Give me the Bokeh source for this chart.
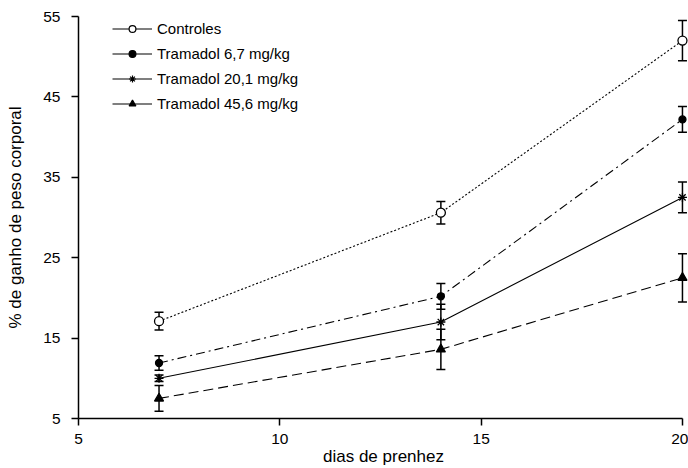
from bokeh.plotting import figure
from bokeh.models import (ColumnDataSource, Whisker, TeeHead, Legend, LegendItem,
                          Range1d, FixedTicker)
from bokeh.embed import file_html
from bokeh.resources import INLINE

# ---- data ----
days = [7, 14, 20]
series_names = ["Controles", "Tramadol 6,7 mg/kg", "Tramadol 20,1 mg/kg", "Tramadol 45,6 mg/kg"]
controles = [17.1, 30.6, 52.0]
controles_err = [1.1, 1.4, 2.5]
tram_6_7 = [11.9, 20.2, 42.2]
tram_6_7_err = [0.9, 1.6, 1.6]
tram_20_1 = [10.0, 17.0, 32.5]
tram_20_1_err = [0.4, 2.2, 1.9]
tram_45_6 = [7.5, 13.6, 22.5]
tram_45_6_err = [1.6, 2.5, 3.0]
x_ticks = [5, 10, 15, 20]
y_ticks = [5, 15, 25, 35, 45, 55]

FONT = "Liberation Sans"

p = figure(width=688, height=468, x_range=Range1d(5, 20.15), y_range=Range1d(5, 55),
           output_backend="svg", toolbar_location=None,
           min_border_left=78, min_border_top=16, min_border_right=0, min_border_bottom=0)
p.xgrid.grid_line_color = None
p.ygrid.grid_line_color = None
p.outline_line_color = None
p.background_fill_color = "white"

for ax, ticks, bounds in ((p.xaxis[0], x_ticks, (5, 20)), (p.yaxis[0], y_ticks, (5, 55))):
    ax.ticker = FixedTicker(ticks=ticks)
    ax.bounds = bounds
    ax.axis_line_width = 1.5
    ax.axis_line_color = "black"
    ax.major_tick_line_width = 1.5
    ax.major_tick_line_color = "black"
    ax.major_tick_in = 0
    ax.major_tick_out = 7
    ax.minor_tick_in = 0
    ax.minor_tick_out = 0
    ax.major_label_text_font = FONT
    ax.major_label_text_font_size = "15.5px"
    ax.major_label_text_color = "black"
    ax.axis_label_text_font = FONT
    ax.axis_label_text_font_size = "17px"
    ax.axis_label_text_font_style = "normal"
    ax.axis_label_text_color = "black"

p.xaxis.axis_label = "dias de prenhez"
p.yaxis.axis_label = "% de ganho de peso corporal"
p.xaxis.major_label_standoff = 8
p.xaxis.axis_label_standoff = 0
p.yaxis.major_label_standoff = 11
p.yaxis.axis_label_standoff = 15

specs = [
    (controles, controles_err, "2 2", "circle", 9, "white"),
    (tram_6_7, tram_6_7_err, "9 4 2 4", "circle", 7, "black"),
    (tram_20_1, tram_20_1_err, "solid", "asterisk", 9, "black"),
    (tram_45_6, tram_45_6_err, "10 5", "triangle", 9, "black"),
]

nan = float("nan")
items = []
for name, (vals, errs, dash, marker, size, fill) in zip(series_names, specs):
    src = ColumnDataSource(dict(
        x=days, y=vals,
        lo=[v - e for v, e in zip(vals, errs)],
        hi=[v + e for v, e in zip(vals, errs)]))
    w = Whisker(source=src, base="x", lower="lo", upper="hi", line_width=1.5,
                line_color="black",
                upper_head=TeeHead(size=9, line_width=1.5, line_color="black"),
                lower_head=TeeHead(size=9, line_width=1.5, line_color="black"))
    p.add_layout(w)
    p.line("x", "y", source=src, line_color="black", line_width=1.1, line_dash=dash)
    p.scatter("x", "y", source=src, marker=marker, size=size, fill_color=fill,
              line_color="black", line_width=1.3)
    # legend proxies (solid line + marker), not drawn in the plot area
    proxy = ColumnDataSource(dict(x=[nan], y=[nan]))
    lr = p.line("x", "y", source=proxy, line_color="black", line_width=1.1)
    sr = p.scatter("x", "y", source=proxy, marker=marker, size=size, fill_color=fill,
                   line_color="black", line_width=1.2)
    items.append(LegendItem(label=name, renderers=[lr, sr]))

legend = Legend(items=items, location=(34, 305), padding=0, spacing=5,
                glyph_width=40, glyph_height=17, label_height=20, label_standoff=5,
                label_text_font=FONT, label_text_font_size="15px",
                label_text_color="black",
                border_line_color=None, background_fill_alpha=0)
p.add_layout(legend)

open("out.html", "w").write(file_html(p, INLINE))
